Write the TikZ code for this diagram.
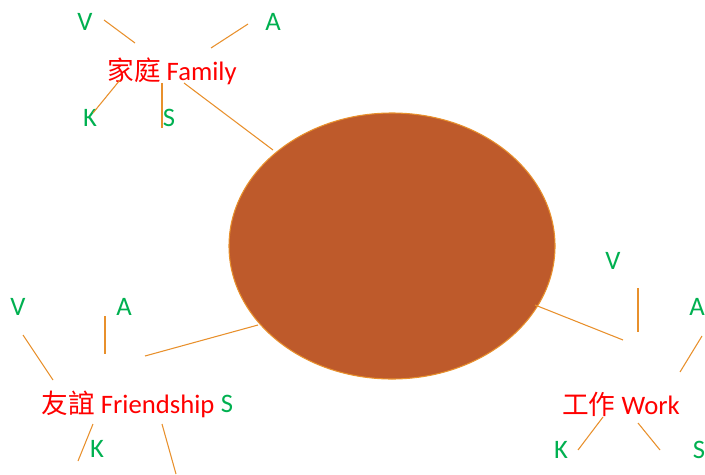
\documentclass[tikz,border=0pt]{standalone}
\usepackage{fontspec}
\usetikzlibrary{shapes.geometric}
\setmainfont{Carlito}
\newfontfamily\cjk{Noto Sans CJK TC}
\definecolor{lineor}{HTML}{E8902C}
\definecolor{ballfill}{HTML}{BE5A2B}
\definecolor{lblgreen}{HTML}{00B050}
\definecolor{lblred}{HTML}{FF0000}
\begin{document}
\begin{tikzpicture}[x=0.75pt,y=-0.75pt,
  conn/.style={draw=lineor,line width=0.8pt},
  lbl/.style={text=lblgreen,font=\fontsize{20}{24}\selectfont,inner sep=0pt},
  topic/.style={text=lblred,font=\fontsize{20}{24}\selectfont,inner sep=0pt}]
\useasboundingbox (0,0) rectangle (705,474);
\node[ellipse,draw=lineor,fill=ballfill,line width=0.8pt,minimum width=326*0.75pt,minimum height=266*0.75pt,inner sep=0pt] (ball) at (392,246) {};
% Family
\node[topic] (fam) at (172,71) {{\cjk 家庭} Family};
\node[lbl] (famV) at (85,22) {V};
\node[lbl] (famA) at (273,22) {A};
\node[lbl] (famK) at (90,118) {K};
\node[lbl] (famS) at (169,118) {S};
\coordinate (f1a) at (104,20); \coordinate (f1b) at (135,43);
\coordinate (f2a) at (211,48); \coordinate (f2b) at (248,24);
\coordinate (f3a) at (120,80); \coordinate (f3b) at (93,113);
\coordinate (f4a) at (162,83); \coordinate (f4b) at (162,128);
\coordinate (f5a) at (184,83); \coordinate (f5b) at (273,150);
\draw[conn] (f1a) -- (f1b);
\draw[conn] (f2a) -- (f2b);
\draw[conn] (f3a) -- (f3b);
\draw[conn] (f4a) -- (f4b);
\draw[conn] (f5a) -- (f5b);
% Friendship
\node[topic] (fri) at (128,404) {{\cjk 友誼} Friendship};
\node[lbl] (friV) at (18,307) {V};
\node[lbl] (friA) at (124,307) {A};
\node[lbl] (friK) at (97,449) {K};
\node[lbl] (friS) at (227,404) {S};
\coordinate (r1a) at (23,335); \coordinate (r1b) at (53,380);
\coordinate (r2a) at (105,316); \coordinate (r2b) at (105,354);
\coordinate (r3a) at (145,356); \coordinate (r3b) at (258,325);
\coordinate (r4a) at (93,424); \coordinate (r4b) at (78,461);
\coordinate (r5a) at (162,424); \coordinate (r5b) at (176,474);
\draw[conn] (r1a) -- (r1b);
\draw[conn] (r2a) -- (r2b);
\draw[conn] (r3a) -- (r3b);
\draw[conn] (r4a) -- (r4b);
\draw[conn] (r5a) -- (r5b);
% Work
\node[topic] (wrk) at (621,404) {{\cjk 工作} Work};
\node[lbl] (wrkV) at (613,261) {V};
\node[lbl] (wrkA) at (697,307) {A};
\node[lbl] (wrkK) at (561,450) {K};
\node[lbl] (wrkS) at (699,450) {S};
\coordinate (w1a) at (638,288); \coordinate (w1b) at (638,332);
\coordinate (w2a) at (535,305); \coordinate (w2b) at (623,340);
\coordinate (w3a) at (702,336); \coordinate (w3b) at (680,372);
\coordinate (w4a) at (603,417); \coordinate (w4b) at (578,450);
\coordinate (w5a) at (638,423); \coordinate (w5b) at (660,450);
\draw[conn] (w1a) -- (w1b);
\draw[conn] (w2a) -- (w2b);
\draw[conn] (w3a) -- (w3b);
\draw[conn] (w4a) -- (w4b);
\draw[conn] (w5a) -- (w5b);
\end{tikzpicture}
\end{document}
